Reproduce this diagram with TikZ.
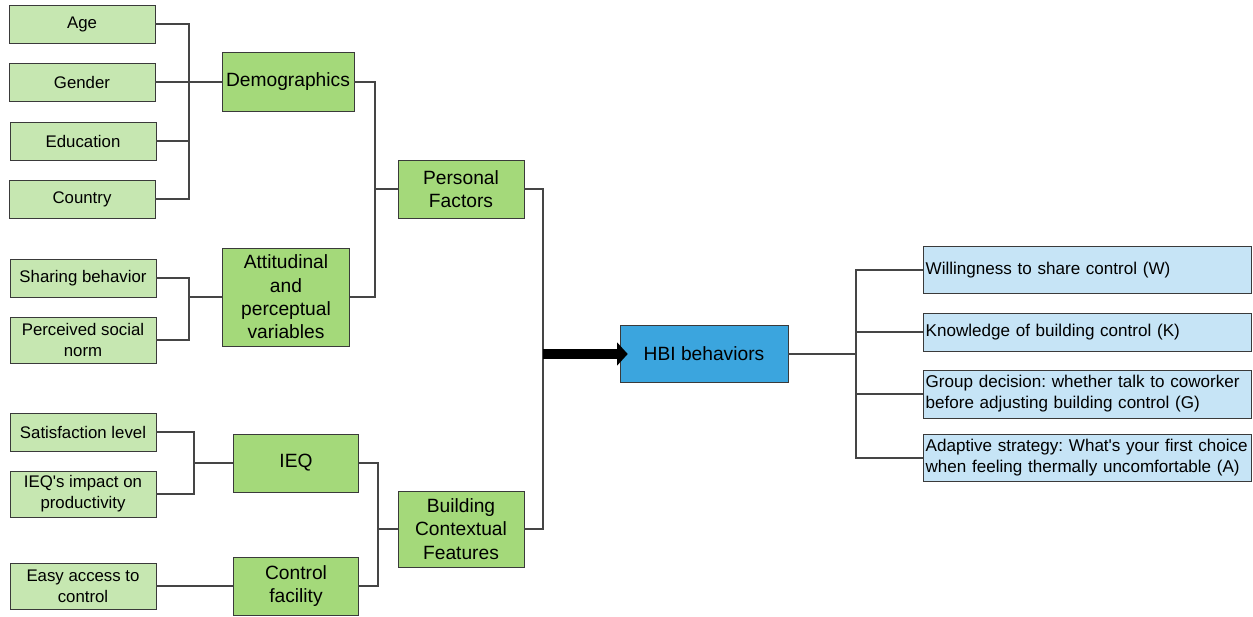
\documentclass[tikz,border=0pt]{standalone}
\usepackage{fontspec}
\setmainfont{Liberation Sans}
\usetikzlibrary{arrows.meta}
\definecolor{leafgreen}{HTML}{C6E7B1}
\definecolor{factorgreen}{HTML}{A4D97A}
\definecolor{hbiblue}{HTML}{3BA5DE}
\definecolor{outcomeblue}{HTML}{C6E4F6}
\definecolor{boxline}{HTML}{3A3A3A}
\definecolor{wireline}{HTML}{454545}
\frenchspacing

\begin{document}
\begin{tikzpicture}[x=0.75pt,y=-0.75pt,
    leafbox/.style={draw=boxline,fill=leafgreen,minimum width=109.5pt,minimum height=28.5pt,inner sep=1pt,align=center,font=\fontsize{12.6}{15.75}\selectfont},
    factorbox/.style={draw=boxline,fill=factorgreen,minimum height=43.5pt,inner sep=1pt,align=center,font=\fontsize{14.4}{17.5}\selectfont},
    outcomebox/.style={draw=boxline,fill=outcomeblue,minimum width=246pt,text width=242pt,inner xsep=2pt,inner ysep=1pt,align=left,font=\fontsize{12.8}{15.75}\selectfont},
    wire/.style={draw=wireline,line width=0.8pt},
    bigarrow/.style={line width=7pt,-{Triangle[length=8pt,width=17pt]}}]
    \useasboundingbox (0,0) rectangle (1253,617);
    % personal factors, left column
    \node[leafbox] (age) at (82,24) {Age};
    \node[leafbox] (gender) at (82,82) {Gender};
    \node[leafbox] (education) at (83,141) {Education};
    \node[leafbox] (country) at (82,199) {Country};
    \node[leafbox] (sharing) at (83,278) {Sharing behavior};
    \node[leafbox,minimum height=34.5pt] (perceived) at (83,340) {Perceived social\\norm};
    % building features, left column
    \node[leafbox] (satisfaction) at (83,432) {Satisfaction level};
    \node[leafbox,minimum height=34.5pt] (impact) at (83,494) {IEQ\textquotesingle s impact on\\productivity};
    \node[leafbox,minimum height=34.5pt] (easy) at (83,586) {Easy access to\\control};
    % middle columns
    \node[factorbox,minimum width=99pt,minimum height=44.25pt] (demographics) at (288,82) {Demographics};
    \node[factorbox,minimum width=95.25pt,minimum height=73.5pt] (attitudinal) at (286,297) {Attitudinal\\and\\perceptual\\variables};
    \node[factorbox,minimum width=93.75pt] (ieq) at (296,463) {IEQ};
    \node[factorbox,minimum width=93.75pt] (control) at (296,586) {Control\\facility};
    \node[factorbox,minimum width=94.5pt] (personal) at (461,189) {Personal\\Factors};
    \node[factorbox,minimum width=94.5pt,minimum height=57pt] (building) at (461,529) {Building\\Contextual\\Features};
    \node[factorbox,fill=hbiblue,minimum width=126pt,minimum height=42.75pt] (hbi) at (704,354) {HBI behaviors};
    % outcomes
    \node[outcomebox,minimum height=35.25pt] (willing) at (1087,270) {Willingness to share control (W)};
    \node[outcomebox,minimum height=28.5pt] (knowledge) at (1087,332) {Knowledge of building control (K)};
    \node[outcomebox,minimum height=36pt] (group) at (1087,394) {Group decision: whether talk to coworker\\before adjusting building control (G)};
    \node[outcomebox,minimum height=35.25pt] (adaptive) at (1087,458) {Adaptive strategy: What\textquotesingle s your first choice\\when feeling thermally uncomfortable (A)};
    % bus points
    \coordinate (demo bus) at (189,82);
    \coordinate (att bus) at (189,297);
    \coordinate (ieq bus) at (194,463);
    \coordinate (pers bus) at (375,189);
    \coordinate (bcf bus) at (378,529);
    \coordinate (main bus) at (543,354);
    \coordinate (out bus) at (856,354);
    % connectors
    \draw[wire] (age.east) -| (demo bus) |- (country.east);
    \draw[wire] (gender.east) -- (demographics.west);
    \draw[wire] (education.east) -- (education.east -| demo bus);
    \draw[wire] (sharing.east) -| (att bus) |- (perceived.east);
    \draw[wire] (att bus) -- (attitudinal.west);
    \draw[wire] (satisfaction.east) -| (ieq bus) |- (impact.east);
    \draw[wire] (ieq bus) -- (ieq.west);
    \draw[wire] (easy.east) -- (control.west);
    \draw[wire] (demographics.east) -| (pers bus) |- (attitudinal.east);
    \draw[wire] (pers bus) -- (personal.west);
    \draw[wire] (ieq.east) -| (bcf bus) |- (control.east);
    \draw[wire] (bcf bus) -- (building.west);
    \draw[wire] (personal.east) -| (main bus) |- (building.east);
    \draw[bigarrow] (main bus) -- ([xshift=6pt]hbi.west);
    \draw[wire] (hbi.east) -- (out bus);
    \draw[wire] (willing.west) -| (out bus) |- (adaptive.west);
    \draw[wire] (knowledge.west) -| (out bus);
    \draw[wire] (group.west) -| (out bus);
\end{tikzpicture}
\end{document}
